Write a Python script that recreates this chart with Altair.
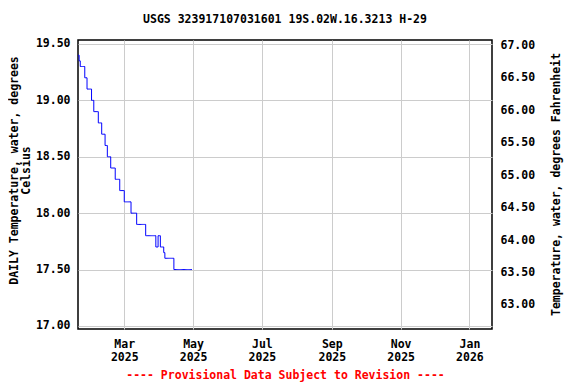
import altair as alt
import pandas as pd

title_text = "USGS 323917107031601 19S.02W.16.3213 H-29"
footer_text = "---- Provisional Data Subject to Revision ----"
start_date = "2025-01-19"
temps_c = [
    19.4, 19.35,
    19.3, 19.3, 19.3, 19.3,
    19.2, 19.2,
    19.1, 19.1, 19.1, 19.1,
    19.0, 19.0,
    18.9, 18.9, 18.9, 18.9,
    18.8, 18.8, 18.8,
    18.7, 18.7, 18.7,
    18.6, 18.6,
    18.5, 18.5, 18.5,
    18.4, 18.4, 18.4, 18.4,
    18.3, 18.3, 18.3, 18.3,
    18.2, 18.2, 18.2, 18.2,
    18.1, 18.1, 18.1, 18.1, 18.1, 18.1,
    18.0, 18.0, 18.0, 18.0, 18.0,
    17.9, 17.9, 17.9, 17.9, 17.9, 17.9, 17.9, 17.9,
    17.8, 17.8, 17.8, 17.8, 17.8, 17.8, 17.8, 17.8, 17.8,
    17.7, 17.7,
    17.8, 17.8,
    17.7, 17.7, 17.7,
    17.65,
    17.6, 17.6, 17.6, 17.6, 17.6, 17.6, 17.6, 17.6,
    17.5, 17.5, 17.5, 17.5, 17.5, 17.5, 17.5, 17.5, 17.5,
    17.5, 17.5, 17.5, 17.5, 17.5, 17.5, 17.5, 17.5,
]
c_ticks = [17.0, 17.5, 18.0, 18.5, 19.0, 19.5]
f_ticks = [63.0, 63.5, 64.0, 64.5, 65.0, 65.5, 66.0, 66.5, 67.0]
c_domain = [16.973, 19.535]
f_domain = [62.63, 67.085]
month_ticks = [(2025, 3), (2025, 5), (2025, 7), (2025, 9), (2025, 11), (2026, 1)]
x_start = (2025, 1, 19)
x_end = (2026, 1, 21)

df = pd.DataFrame({
    "date": pd.date_range(start_date, periods=len(temps_c), freq="D"),
    "temp_c": temps_c,
})

FONT = "DejaVu Sans Mono"
FS = 11.5

x_enc = alt.X(
    "date:T",
    scale=alt.Scale(domain=[alt.DateTime(year=x_start[0], month=x_start[1], date=x_start[2]),
                            alt.DateTime(year=x_end[0], month=x_end[1], date=x_end[2])]),
    axis=alt.Axis(
        values=[alt.DateTime(year=y, month=m, date=1) for y, m in month_ticks],
        labelExpr="[timeFormat(datum.value, '%b'), timeFormat(datum.value, '%Y')]",
        labelLineHeight=13,
        labelPadding=9,
        labelBaseline="top",
        ticks=False,
        domain=False,
        grid=True,
        gridColor="#cccccc",
        title=footer_text,
        titleColor="#ff0000",
        titleX=207,
        titleY=46,
        titleBaseline="middle",
        titleAlign="center",
    ),
)

line = alt.Chart(df).mark_line(
    color="#0000ff", strokeWidth=1, interpolate="step-after"
).encode(
    x=x_enc,
    y=alt.Y(
        "temp_c:Q",
        scale=alt.Scale(domain=c_domain, nice=False, zero=False),
        axis=alt.Axis(
            values=c_ticks,
            format=".2f",
            grid=True,
            gridColor="#cccccc",
            ticks=False,
            domain=False,
            labelPadding=8,
            title=["DAILY Temperature, water, degrees", "Celsius"],
            titleAngle=270,
            titleX=-70,
            titleY=130,
            titleBaseline="top",
            titleAlign="center",
            titleLineHeight=12.5,
        ),
    ),
)

right = alt.Chart(df).transform_calculate(
    temp_f="datum.temp_c * 1.8 + 32"
).mark_line(opacity=0).encode(
    x=alt.X("date:T"),
    y=alt.Y(
        "temp_f:Q",
        scale=alt.Scale(domain=f_domain, nice=False, zero=False),
        axis=alt.Axis(
            orient="right",
            values=f_ticks,
            format=".2f",
            grid=False,
            ticks=False,
            domain=False,
            labelPadding=8,
            title="Temperature, water, degrees Fahrenheit",
            titleAngle=270,
            titleX=58,
            titleY=144,
            titleBaseline="top",
            titleAlign="center",
        ),
    ),
)

chart = alt.layer(line, right).resolve_scale(y="independent").properties(
    width=414,
    height=289,
    autosize="none",
    background="white",
    padding={"left": 70, "top": 32, "right": 76, "bottom": 56},
    title=alt.TitleParams(
        text=title_text,
        anchor="middle",
        frame="group",
        offset=12,
        font=FONT,
        fontSize=FS,
        fontWeight="bold",
        color="black",
    ),
).configure_view(
    stroke="black", strokeWidth=1.5
).configure_axis(
    labelFont=FONT,
    labelFontSize=FS,
    labelFontWeight="bold",
    labelColor="black",
    titleFont=FONT,
    titleFontSize=FS,
    titleFontWeight="bold",
    titleColor="black",
    titleLineHeight=13,
)

chart.save("out.html", embed_options={"renderer": "svg", "actions": False})
